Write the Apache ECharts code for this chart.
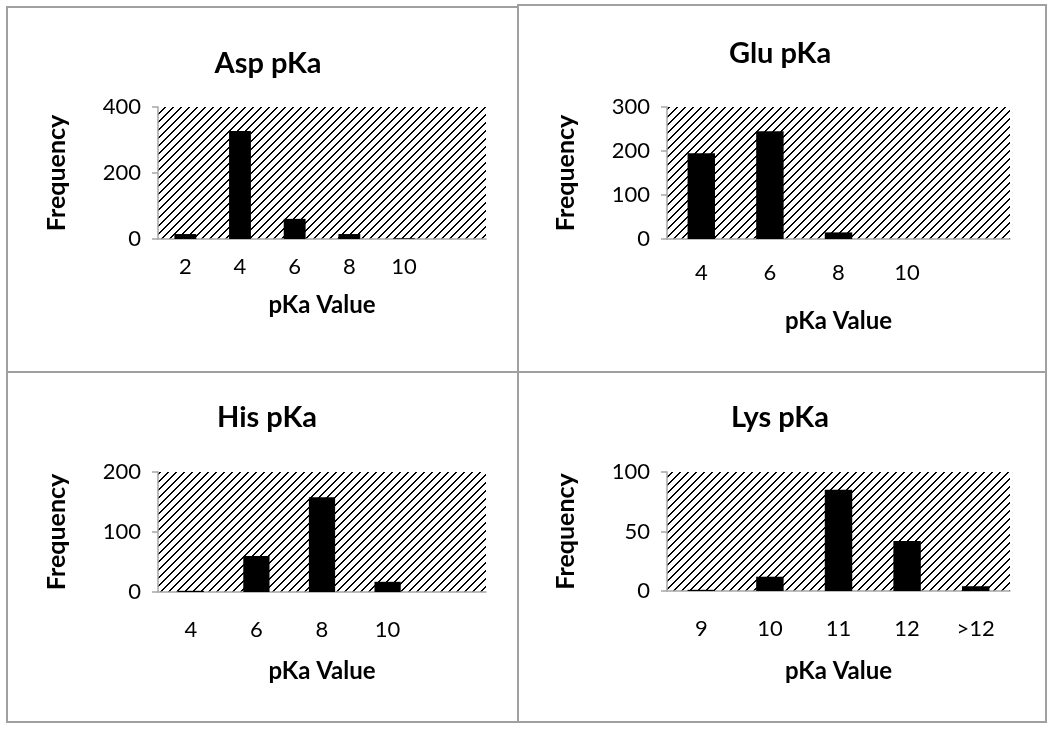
<!DOCTYPE html>
<html>
<head>
<meta charset="utf-8">
<script src="https://cdn.jsdelivr.net/npm/echarts@6/dist/echarts.min.js"></script>
<style>
  html, body { margin: 0; padding: 0; background: #fff; }
  #chart { width: 1050px; height: 731px; }
</style>
</head>
<body>
<div id="chart"></div>
<script>
// histogram bins and counts, one set per residue
var aspBins = ['2', '4', '6', '8', '10', ''];
var aspFreq = [15, 327, 61, 15, 2, 0];
var gluBins = ['4', '6', '8', '10', ''];
var gluFreq = [195, 245, 15, 0, 0];
var hisBins = ['4', '6', '8', '10', ''];
var hisFreq = [2, 60, 158, 17, 0];
var lysBins = ['9', '10', '11', '12', '>12'];
var lysFreq = [1, 12, 85, 42, 4];

var titles = ['Asp pKa', 'Glu pKa', 'His pKa', 'Lys pKa'];
var yMax = [400, 300, 200, 100];
var yStep = [200, 100, 100, 50];

var FONT = 'Lato, "Open Sans", sans-serif';

// pixel staircase diagonal hatch (like the excel pattern fill)
function makeHatch() {
    var c = document.createElement('canvas');
    var s = 8;
    c.width = s; c.height = s;
    var ctx = c.getContext('2d');
    ctx.fillStyle = '#fff';
    ctx.fillRect(0, 0, s, s);
    ctx.fillStyle = '#000';
    for (var x = 0; x < s; x++) {
        var y = s - 1 - x;
        ctx.fillRect(x, y, 1, 1);
        ctx.fillRect((x + 1) % s, y, 1, 1);
    }
    return c;
}
var hatch = { image: makeHatch(), repeat: 'repeat' };

var panels = [
    { bins: aspBins, freq: aspFreq, grid: { left: 158, top: 107, width: 328, height: 132 }, tx: 263, ty: 44, xGap: 54, lblM: 18 },
    { bins: gluBins, freq: gluFreq, grid: { left: 667, top: 107, width: 343, height: 132 }, tx: 775, ty: 34, xGap: 70, lblM: 24 },
    { bins: hisBins, freq: hisFreq, grid: { left: 158, top: 472, width: 328, height: 120 }, tx: 262, ty: 398, xGap: 67, lblM: 28 },
    { bins: lysBins, freq: lysFreq, grid: { left: 667, top: 472, width: 343, height: 119 }, tx: 775, ty: 398, xGap: 68, lblM: 28 }
];

var axisGrey = '#a6a6a6';
var option = { animation: false, backgroundColor: '#fff', title: [], grid: [], xAxis: [], yAxis: [], series: [] };

panels.forEach(function (p, i) {
    option.title.push({
        text: titles[i], left: p.tx, top: p.ty, textAlign: 'center',
        textStyle: { fontFamily: FONT, fontSize: 29, fontWeight: 'bold', color: '#000' }
    });
    option.grid.push({
        left: p.grid.left, top: p.grid.top, width: p.grid.width, height: p.grid.height,
        show: true, borderWidth: 0, backgroundColor: hatch
    });
    option.xAxis.push({
        type: 'category', gridIndex: i, data: p.bins,
        name: 'pKa Value', nameLocation: 'middle', nameGap: p.xGap,
        nameTextStyle: { fontFamily: FONT, fontSize: 24, fontWeight: 'bold', color: '#000' },
        axisLine: { lineStyle: { color: axisGrey, width: 1.5 } },
        axisTick: { length: 6, lineStyle: { color: axisGrey, width: 1.5 } },
        axisLabel: { fontFamily: FONT, fontSize: 22, color: '#000', margin: p.lblM - 1, interval: 0 }
    });
    option.yAxis.push({
        type: 'value', gridIndex: i, min: 0, max: yMax[i], interval: yStep[i],
        name: 'Frequency', nameLocation: 'middle', nameGap: 89,
        nameTextStyle: { fontFamily: FONT, fontSize: 25, fontWeight: 'bold', color: '#000' },
        axisLine: { show: true, lineStyle: { color: axisGrey, width: 1.5 } },
        axisTick: { show: true, length: 6, lineStyle: { color: axisGrey, width: 1.5 } },
        splitLine: { show: false },
        axisLabel: { fontFamily: FONT, fontSize: 22, color: '#000', margin: 17 }
    });
    option.series.push({
        type: 'bar', xAxisIndex: i, yAxisIndex: i, data: p.freq,
        barWidth: '40%', itemStyle: { color: '#000' }
    });
});

// panel frames
var frameStyle = { fill: 'none', stroke: '#a0a0a0', lineWidth: 2 };
option.graphic = [
    { type: 'rect', shape: { x: 7, y: 7, width: 511, height: 365 }, style: frameStyle, silent: true },
    { type: 'rect', shape: { x: 518, y: 5, width: 528, height: 367 }, style: frameStyle, silent: true },
    { type: 'rect', shape: { x: 7, y: 372, width: 511, height: 350 }, style: frameStyle, silent: true },
    { type: 'rect', shape: { x: 518, y: 372, width: 528, height: 350 }, style: frameStyle, silent: true }
];

var chart = echarts.init(document.getElementById('chart'));
chart.setOption(option);
</script>
</body>
</html>
